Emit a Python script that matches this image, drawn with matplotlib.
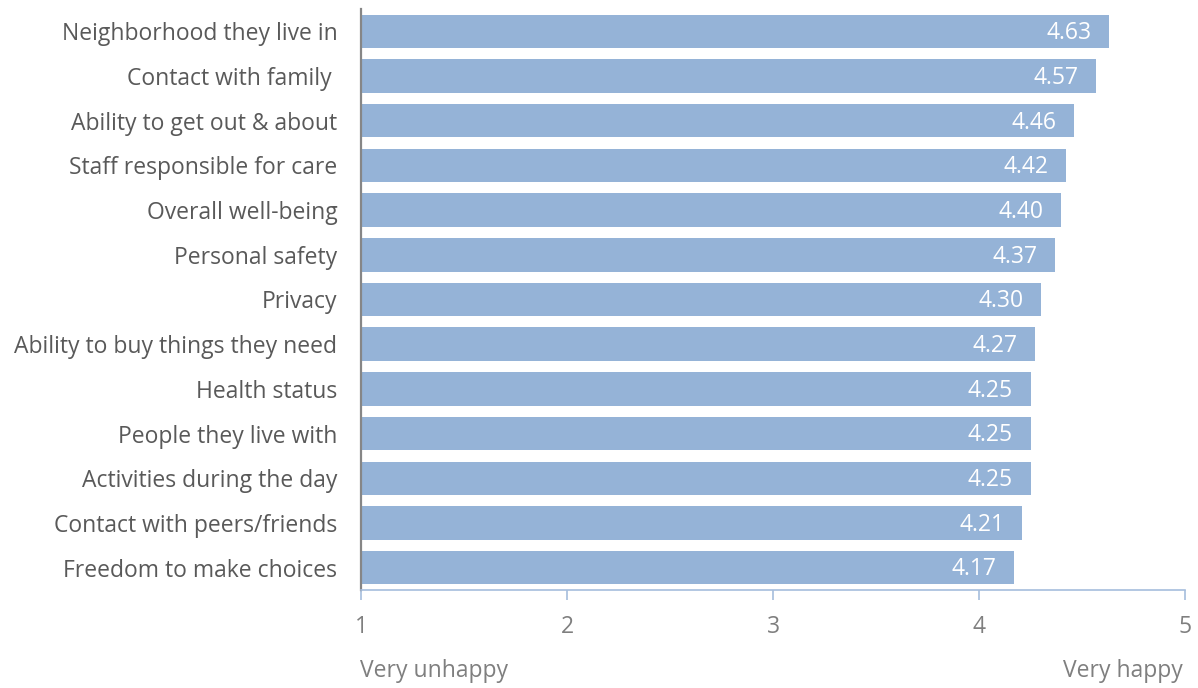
import matplotlib
matplotlib.use("Agg")
import matplotlib.pyplot as plt

# Average satisfaction per domain (1 = very unhappy, 5 = very happy)
categories = [
    "Neighborhood they live in",
    "Contact with family ",
    "Ability to get out & about",
    "Staff responsible for care",
    "Overall well-being",
    "Personal safety",
    "Privacy",
    "Ability to buy things they need",
    "Health status",
    "People they live with",
    "Activities during the day",
    "Contact with peers/friends",
    "Freedom to make choices",
]
scores = [4.63, 4.57, 4.46, 4.42, 4.40, 4.37, 4.30, 4.27, 4.25, 4.25, 4.25, 4.21, 4.17]
ticks = [1, 2, 3, 4, 5]

BAR = "#95B3D7"
AXIS_BLUE = "#A6BEDD"
TXT = "#595959"

plt.rcParams["font.family"] = ["Open Sans", "DejaVu Sans"]

fig = plt.figure(figsize=(11.98, 6.88), dpi=100)
ax = fig.add_axes([361 / 1198, 1 - 590 / 688, (1185 - 361) / 1198, 581 / 688])

ypos = list(range(len(categories)))
left = 1
ax.barh(ypos, [s - left for s in scores], left=left, height=0.75, color=BAR, zorder=2)

for y, s in zip(ypos, scores):
    ax.text(s - 0.085, y + 0.04, f"{s:.2f}", ha="right", va="center",
            color="white", fontsize=16.5, zorder=3)

ax.set_xlim(1, 5)
ax.set_ylim(len(categories) - 0.5, -0.5)
ax.set_yticks(ypos)
ax.set_yticklabels(categories, fontsize=16.5, color=TXT)
ax.set_xticks(ticks)
ax.set_xticklabels([str(t) for t in ticks], fontsize=16.5, color="#7F7F7F")

ax.tick_params(axis="y", length=0, pad=17)
ax.tick_params(axis="x", direction="out", length=7, width=1.2, color=AXIS_BLUE, pad=11)

for side in ("top", "right"):
    ax.spines[side].set_visible(False)
ax.spines["left"].set_color("#868686")
ax.spines["left"].set_linewidth(1.6)
ax.spines["bottom"].set_color(AXIS_BLUE)
ax.spines["bottom"].set_linewidth(1.2)

fig.text(360 / 1198, 1 - 671 / 688, "Very unhappy", ha="left", va="center",
         fontsize=16.5, color="#7F7F7F")
fig.text(1183 / 1198, 1 - 671 / 688, "Very happy", ha="right", va="center",
         fontsize=16.5, color="#7F7F7F")

fig.savefig("out.png", dpi=100, facecolor="white")
